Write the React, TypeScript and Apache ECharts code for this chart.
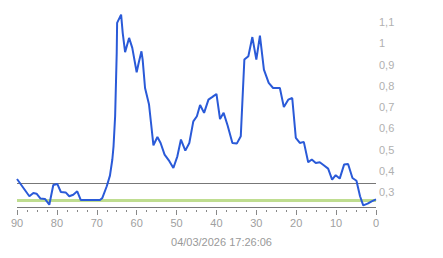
import React, { useEffect, useRef } from "react";
import * as echarts from "echarts";

const days = [90, 86.9, 85.9, 85.1, 84.1, 83, 81.9, 80.9, 79.9, 79, 77.8, 76.9, 75.9, 74.9, 74, 69.2, 68.6, 67.5, 66.7, 66.1, 65.8, 65.4, 65.2, 65, 64.9, 63.9, 63.5, 62.9, 61.9, 61.1, 60, 59.5, 58.8, 58.5, 57.9, 56.9, 56.4, 55.8, 54.8, 54, 53, 51.8, 50.8, 49.8, 48.9, 47.8, 46.8, 45.8, 44.9, 44.1, 43.1, 42, 41, 40, 39.1, 38.2, 37.2, 36, 34.9, 33.9, 33, 32, 31, 30, 29.1, 28.1, 26.9, 25.8, 24.1, 23.1, 22, 21, 20.1, 19.1, 18.1, 17, 16.1, 15.1, 14.1, 13.1, 12, 11, 10.1, 9.1, 8, 7, 5.9, 4.9, 4, 3.2, 2.1, 1.1, 0];
const values = [0.361, 0.28, 0.295, 0.292, 0.269, 0.267, 0.24, 0.333, 0.338, 0.3, 0.298, 0.28, 0.287, 0.303, 0.262, 0.262, 0.272, 0.327, 0.377, 0.453, 0.515, 0.657, 0.806, 0.956, 1.097, 1.136, 1.05, 0.959, 1.026, 0.979, 0.864, 0.908, 0.963, 0.924, 0.79, 0.712, 0.625, 0.52, 0.559, 0.531, 0.476, 0.445, 0.413, 0.468, 0.547, 0.495, 0.531, 0.633, 0.657, 0.71, 0.673, 0.735, 0.748, 0.762, 0.644, 0.673, 0.613, 0.531, 0.528, 0.563, 0.924, 0.94, 1.03, 0.924, 1.037, 0.877, 0.814, 0.79, 0.79, 0.7, 0.735, 0.743, 0.555, 0.531, 0.536, 0.44, 0.453, 0.437, 0.44, 0.426, 0.41, 0.358, 0.379, 0.363, 0.429, 0.432, 0.366, 0.353, 0.28, 0.237, 0.245, 0.256, 0.265];
const upperLevel = 0.339;
const targetLevel = 0.264;
const lowerLevel = 0.234;
const timestamp = "04/03/2026 17:26:06";

export default function App() {
  const ref = useRef<HTMLDivElement>(null);
  useEffect(() => {
    document.body.style.margin = "0";
    const chart = echarts.init(ref.current!, null, { renderer: "svg" });
    const font = "'Liberation Sans', Arial, sans-serif";
    chart.setOption({
      animation: false,
      grid: { left: 17, right: 67, top: 1, bottom: 44.8 },
      title: {
        text: timestamp,
        left: "center",
        top: 231,
        textStyle: { fontFamily: font, fontSize: 11, fontWeight: "normal", color: "#999" },
      },
      xAxis: {
        type: "value",
        min: 0,
        max: 90,
        interval: 10,
        inverse: true,
        offset: -3.2,
        axisLine: { show: false },
        axisTick: { show: true, length: 5, lineStyle: { color: "#888" } },
        minorTick: { show: true, splitNumber: 4, length: 2, lineStyle: { color: "#888" } },
        splitLine: { show: false },
        axisLabel: { margin: 7, fontFamily: font, fontSize: 11, color: "#a0a0a0" },
      },
      yAxis: {
        type: "value",
        position: "right",
        min: 0.2,
        max: 1.2,
        interval: 0.1,
        axisLine: { show: false },
        axisTick: { show: false },
        splitLine: { show: false },
        axisLabel: {
          margin: 3,
          fontFamily: font,
          fontSize: 11,
          color: "#b0b0b0",
          formatter: (v: number) => {
            const r = Math.round(v * 10) / 10;
            if (r < 0.25 || r > 1.15) return "";
            return String(r).replace(".", ",");
          },
        },
      },
      series: [
        {
          type: "line",
          data: [],
          z: 1,
          silent: true,
          markLine: {
            silent: true,
            z: 1,
            symbol: "none",
            label: { show: false },
            data: [
              { yAxis: upperLevel, lineStyle: { color: "#777", width: 1, type: "solid" } },
              { yAxis: targetLevel, lineStyle: { color: "#bfdd90", width: 3, type: "solid" } },
              { yAxis: lowerLevel, lineStyle: { color: "#777", width: 1, type: "solid" } },
            ],
          },
        },
        {
          type: "line",
          z: 3,
          data: days.map((d, i) => [d, values[i]]),
          showSymbol: false,
          lineStyle: { color: "#2a5ad8", width: 2 },
          itemStyle: { color: "#2a5ad8" },
        },
      ],
    });
    return () => chart.dispose();
  }, []);
  return <div ref={ref} style={{ width: 443, height: 258 }} />;
}
